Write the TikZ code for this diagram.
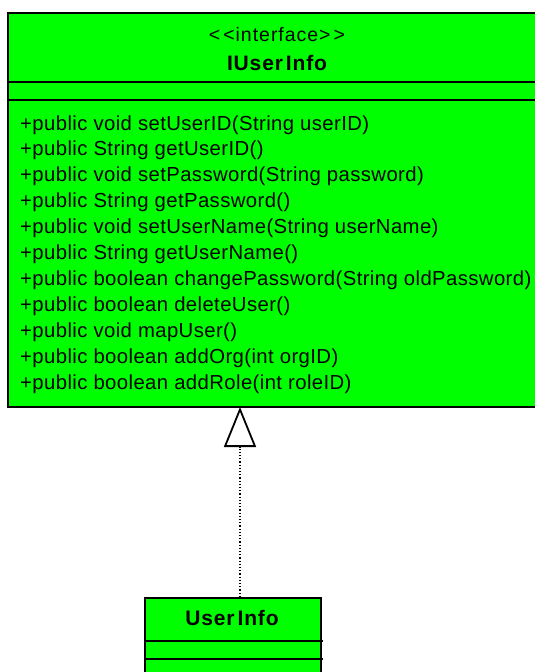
\documentclass[tikz,border=0pt]{standalone}
\usepackage{fontspec}
\setmainfont{Liberation Sans}
\usetikzlibrary{arrows.meta}
\definecolor{umlgreen}{RGB}{0,255,0}
\tikzset{
  classbox/.style={draw=black, line width=2pt, fill=umlgreen, anchor=north west, inner sep=0pt},
  divider/.style={draw=black, line width=2pt},
  member/.style={anchor=base west, inner sep=0pt, font=\fontsize{20.3}{22}\selectfont\addfontfeature{LetterSpace=2}},
  stereo/.style={anchor=base, inner sep=0pt, font=\fontsize{19.5}{22}\selectfont\addfontfeature{LetterSpace=5}},
  cname/.style={anchor=base, inner sep=0pt, font=\fontsize{21}{22}\selectfont\bfseries\addfontfeature{LetterSpace=4}},
  realize/.style={dotted, line width=1.2pt, -{Triangle[open, width=32pt, length=40pt, line width=1.8pt]}}
}
\begin{document}
\begin{tikzpicture}[x=1pt,y=-1pt]
\clip (0,0) rectangle (535,672);
\fill[white] (0,0) rectangle (535,672);
% interface box
\node[classbox, minimum width=540pt, minimum height=394pt] (iface) at (7,12) {};
\draw[divider] (7,82) -- (547,82);
\draw[divider] (7,100) -- (547,100);
\node[stereo] (stereo) at (277,41.5) {{<}\kern3pt{<}interface{>}\kern3pt{>}};
\node[cname] (iname) at (277,70) {IUser\kern3pt Info};
\foreach \t [count=\i] in {
  +public void setUserID(String userID),
  +public String getUserID(),
  +public void setPassword(String password),
  +public String getPassword(),
  +public void setUserName(String userName),
  +public String getUserName(),
  +public boolean changePassword(String oldPassword),
  +public boolean deleteUser(),
  +public void mapUser(),
  +public boolean addOrg(int orgID),
  +public boolean addRole(int roleID)}
  \node[member] (m\i) at (20,{130+25.9*(\i-1)}) {\t};
% implementing class
\node[classbox, minimum width=176pt, minimum height=100pt] (ui) at (144,597) {};
\draw[divider] (144,641) -- (322.5,641);
\draw[divider] (144,659) -- (322.5,659);
\node[cname] (uname) at (232,625.7) {User\kern3pt Info};
% realization
\coordinate (apex) at (240,407);
\draw[realize] (ui.north -| apex) -- (apex);
\end{tikzpicture}
\end{document}
